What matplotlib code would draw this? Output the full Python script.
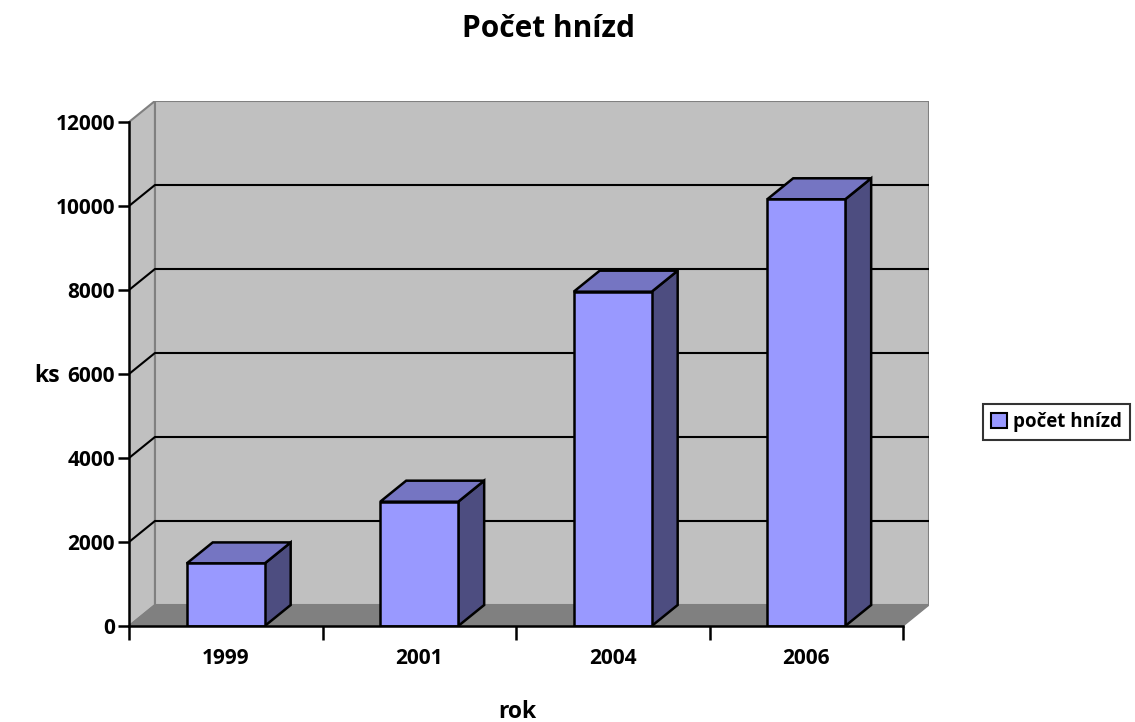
import matplotlib.pyplot as plt
from matplotlib.patches import Polygon, Patch

plt.rcParams['font.family'] = ['Open Sans', 'DejaVu Sans']
plt.rcParams['font.weight'] = 'bold'

# data
roky = ['1999', '2001', '2004', '2006']
pocet_hnizd = [1490, 2960, 7960, 10160]
y_ticks = [0, 2000, 4000, 6000, 8000, 10000, 12000]

# colours (Excel 3D look)
c_front = '#9999FF'
c_top = '#7575C2'
c_side = '#4D4D80'
c_wall = '#C0C0C0'
c_floor = '#808080'

# 3D offset in data units
dx = 0.134
dy = 500
w = 0.403
ymax = 12000

fig = plt.figure(figsize=(11.35, 7.22), dpi=100)
ax = fig.add_axes([129 / 1135, 96 / 722, 800 / 1135, 525 / 722])
ax.set_xlim(-0.5, -0.5 + 800 / 193.5)
ax.set_ylim(0, 12500)
ax.patch.set_visible(False)

x0, x1 = -0.5, len(roky) - 0.5

# walls and floor
ax.add_patch(Polygon([(x0 + dx, dy), (x1 + dx, dy), (x1 + dx, ymax + dy), (x0 + dx, ymax + dy)],
                     closed=True, fc=c_wall, ec='#808080', lw=1.5, zorder=1))
ax.add_patch(Polygon([(x0, 0), (x0, ymax), (x0 + dx, ymax + dy), (x0 + dx, dy)],
                     closed=True, fc=c_wall, ec='#808080', lw=1.5, zorder=1))
ax.add_patch(Polygon([(x0, 0), (x1, 0), (x1 + dx, dy), (x0 + dx, dy)],
                     closed=True, fc=c_floor, ec='#808080', lw=1.0, zorder=1))

# gridlines
for v in y_ticks[1:-1]:
    ax.plot([x0, x0 + dx, x1 + dx], [v, v + dy, v + dy], color='black', lw=1.5, zorder=2)

# bars
for i, v in enumerate(pocet_hnizd):
    l, r = i - w / 2, i + w / 2
    ax.add_patch(Polygon([(r, 0), (r, v), (r + dx, v + dy), (r + dx, dy)],
                         closed=True, fc=c_side, ec='black', lw=1.8, zorder=3, joinstyle='miter'))
    ax.add_patch(Polygon([(l, v), (r, v), (r + dx, v + dy), (l + dx, v + dy)],
                         closed=True, fc=c_top, ec='black', lw=1.8, zorder=3, joinstyle='miter'))
    ax.add_patch(Polygon([(l, 0), (r, 0), (r, v), (l, v)],
                         closed=True, fc=c_front, ec='black', lw=1.8, zorder=4, joinstyle='miter'))

# axes
for s in ['top', 'right']:
    ax.spines[s].set_visible(False)
ax.spines['left'].set_bounds(0, ymax)
ax.spines['bottom'].set_bounds(x0, x1)
ax.spines['left'].set_linewidth(1.8)
ax.spines['bottom'].set_linewidth(1.8)
ax.spines['left'].set_zorder(5)
ax.spines['bottom'].set_zorder(5)

ax.set_yticks(y_ticks)
ax.set_yticklabels([str(t) for t in y_ticks])
ax.tick_params(axis='y', length=8, width=1.8, pad=2, labelsize=15)

ax.set_xticks([x0 + k for k in range(len(roky) + 1)])
ax.set_xticklabels([])
ax.set_xticks(range(len(roky)), minor=True)
ax.set_xticklabels(roky, minor=True)
ax.tick_params(axis='x', which='major', length=10, width=1.8)
ax.tick_params(axis='x', which='minor', length=0, pad=16, labelsize=15)

fig.text(549 / 1135, 1 - 29 / 722, 'Počet hnízd', ha='center', va='center', fontsize=21.5, fontweight='bold')
fig.text(517 / 1135, 1 - 712 / 722, 'rok', ha='center', va='center', fontsize=16.5, fontweight='bold')
fig.text(47 / 1135, 1 - 376 / 722, 'ks', ha='center', va='center', fontsize=16.5, fontweight='bold')

leg = fig.legend(handles=[Patch(fc=c_front, ec='black', lw=1.5, label='počet hnízd')],
                 loc='center left', bbox_to_anchor=(983 / 1135, 1 - 422 / 722),
                 frameon=True, fancybox=False, edgecolor='black', fontsize=13.5,
                 handlelength=0.85, handleheight=0.85, handletextpad=0.3,
                 borderpad=0.45, borderaxespad=0)
leg.get_frame().set_linewidth(1.5)

fig.savefig('out.png', dpi=100)
